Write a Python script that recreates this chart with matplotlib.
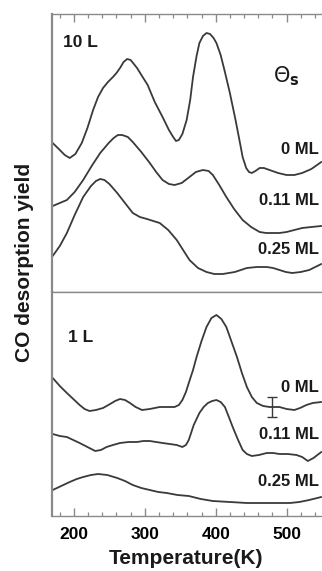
import matplotlib
matplotlib.use("Agg")
import matplotlib.pyplot as plt
from matplotlib.ticker import MultipleLocator

plt.rcParams['font.family'] = ['Liberation Sans', 'DejaVu Sans']
plt.rcParams['mathtext.fontset'] = 'dejavusans'

# ---- 10 L exposure (top panel) ----
t10_0 = [170, 180, 187, 194, 202, 211, 219, 227, 234, 241, 248, 255, 260, 265, 270, 275, 280, 289, 296,
         304, 314, 325, 334, 340, 344, 348, 353, 359, 364, 368, 373, 377, 382, 387, 392, 397, 401, 407,
         413, 420, 428, 434, 438, 443, 447, 451, 456, 462, 468, 476, 488, 500, 511, 522, 535, 549]
y10_0 = [149, 142, 137, 134, 138, 149, 164, 182, 195, 204, 210, 215, 219, 224, 230, 233, 232, 224, 216,
         207, 190, 175, 162, 155, 151, 152, 158, 172, 192, 215, 236, 249, 256, 259, 258, 254, 249, 237,
         220, 199, 172, 150, 135, 124, 120, 119, 121, 124, 124, 122, 119, 117, 117, 119, 123, 130]

t10_11 = [170, 180, 190, 201, 213, 225, 237, 249, 256, 262, 268, 276, 283, 295, 307, 316, 325, 334, 342,
          352, 363, 372, 382, 390, 396, 405, 415, 426, 438, 450, 462, 471, 480, 490, 500, 511, 522, 535, 549]
y10_11 = [86, 89, 92, 100, 112, 126, 139, 149, 154, 157, 157, 155, 150, 140, 129, 120, 112, 108, 107,
          109, 115, 120, 122, 121, 117, 107, 95, 83, 72, 65, 60, 59, 59, 59, 60, 62, 64, 65, 66]

t10_25 = [170, 180, 190, 201, 213, 224, 231, 237, 243, 250, 261, 272, 283, 293, 303, 312, 321, 333, 345,
          354, 363, 375, 387, 398, 410, 427, 444, 458, 472, 481, 490, 499, 508, 520, 532, 549]
y10_25 = [36, 46, 59, 77, 95, 106, 111, 113, 112, 108, 99, 89, 79, 75, 73, 71, 69, 62, 52,
          42, 32, 24, 20, 18, 18, 20, 24, 25, 25, 24, 22, 20, 19, 20, 22, 28]

# ---- 1 L exposure (bottom panel) ----
t1_0 = [170, 180, 190, 199, 208, 215, 222, 231, 241, 251, 258, 265, 272, 279, 287, 296, 307, 314, 321,
        331, 342, 348, 353, 358, 362, 368, 373, 380, 387, 394, 401, 408, 415, 422, 430, 437, 444, 451,
        458, 467, 476, 483, 490, 500, 511, 519, 528, 537, 549]
y1_0 = [138, 130, 123, 117, 111, 107, 105, 106, 108, 112, 115, 117, 116, 113, 109, 106, 107, 108, 109,
        109, 109, 111, 116, 124, 133, 146, 159, 175, 189, 198, 201, 197, 189, 175, 159, 143, 129, 119,
        113, 110, 109, 109, 109, 107, 106, 108, 111, 113, 114]

t1_11 = [170, 180, 190, 199, 208, 219, 230, 238, 246, 255, 265, 277, 289, 298, 307, 316, 325, 335, 345,
         353, 358, 362, 369, 377, 383, 389, 395, 401, 407, 413, 418, 424, 431, 438, 444, 451, 461, 472,
         481, 490, 502, 514, 522, 530, 538, 549]
y1_11 = [82, 80, 79, 76, 73, 69, 65, 66, 69, 71, 73, 74, 74, 75, 75, 74, 73, 72, 71,
         69, 71, 76, 91, 103, 109, 113, 115, 116, 114, 109, 100, 89, 77, 66, 62, 60, 61, 63,
         63, 62, 62, 61, 59, 55, 58, 64]

t1_25 = [170, 182, 194, 204, 213, 224, 234, 247, 261, 272, 283, 295, 307, 319, 331, 346, 362, 379, 396,
         420, 444, 467, 490, 505, 518, 532, 549]
y1_25 = [26, 30, 34, 37, 39, 41, 42, 41, 38, 35, 31, 28, 26, 24, 23, 21, 20, 17, 15,
         14, 13, 13, 13, 13, 14, 16, 19]

# error bar on the 1 L, 0 ML trace
err_t = [479]
err_y = [109]
err_h = [10]

xmin, xmax = 169, 550
line_c = '#3a3a3a'
spine_c = '#8a8a8a'

W, H = 322, 571
fig = plt.figure(figsize=(W / 100, H / 100), dpi=100)
left = 52 / W
ax_top = fig.add_axes([left, 1 - 292 / H, 1 - left, 278 / H])
ax_bot = fig.add_axes([left, 1 - 516 / H, 1 - left, 224 / H])

for ax in (ax_top, ax_bot):
    ax.set_xlim(xmin, xmax)
    ax.xaxis.set_major_locator(MultipleLocator(100))
    ax.xaxis.set_minor_locator(MultipleLocator(20))
    ax.set_yticks([])
    ax.spines['right'].set_visible(False)
    for s in ('left', 'top', 'bottom'):
        ax.spines[s].set_color(spine_c)
    ax.spines['left'].set_linewidth(1.6)
    ax.spines['top'].set_linewidth(1.0)
    ax.spines['bottom'].set_linewidth(1.0)
    ax.tick_params(axis='x', which='both', direction='in', color=spine_c)
    ax.tick_params(axis='x', which='major', length=6, width=1.0)
    ax.tick_params(axis='x', which='minor', length=3.2, width=0.9)

ax_top.set_ylim(0, 278)
ax_bot.set_ylim(0, 224)

ax_top.tick_params(axis='x', which='both', top=True, bottom=False, labeltop=False, labelbottom=False)
ax_bot.tick_params(axis='x', which='both', top=False, bottom=True, labelbottom=True, pad=8,
                   labelsize=12.5)
for lab in ax_bot.get_xticklabels():
    lab.set_fontweight('bold')

style = dict(color=line_c, lw=1.3, solid_joinstyle='round', solid_capstyle='round')
ax_top.plot(t10_0, y10_0, **style)
ax_top.plot(t10_11, y10_11, **style)
ax_top.plot(t10_25, y10_25, **style)
ax_bot.plot(t1_0, y1_0, **style)
ax_bot.plot(t1_11, y1_11, **style)
ax_bot.plot(t1_25, y1_25, **style)
ax_bot.errorbar(err_t, err_y, yerr=err_h, fmt='none', ecolor=line_c, elinewidth=1.0,
                capsize=3.5, capthick=1.0)

def ftext(x, y, s, ha='left', size=12, **kw):
    fig.text(x / W, 1 - y / H, s, ha=ha, va='center', fontsize=size, fontweight='bold',
             color='#1a1a1a', **kw)

ftext(63, 42.5, '10 L', size=12.5)
ftext(68, 337.5, '1 L', size=12.5)
fig.text(286 / W, 1 - 76 / H, r'$\Theta_\mathbf{s}$', ha='center', va='center', fontsize=15,
         color='#1a1a1a')

ftext(319, 149, '0 ML', ha='right')
ftext(319, 201, '0.11 ML', ha='right')
ftext(319, 249.5, '0.25 ML', ha='right')
ftext(319, 388, '0 ML', ha='right')
ftext(319, 434.5, '0.11 ML', ha='right')
ftext(319, 482, '0.25 ML', ha='right')

fig.text(186 / W, 1 - 559 / H, 'Temperature(K)', ha='center', va='center', fontsize=15,
         fontweight='bold', color='#1a1a1a')
fig.text(25 / W, 1 - 262 / H, 'CO desorption yield', ha='center', va='center', rotation=90,
         fontsize=15, fontweight='bold', color='#1a1a1a')

fig.savefig('out.png', dpi=100)
